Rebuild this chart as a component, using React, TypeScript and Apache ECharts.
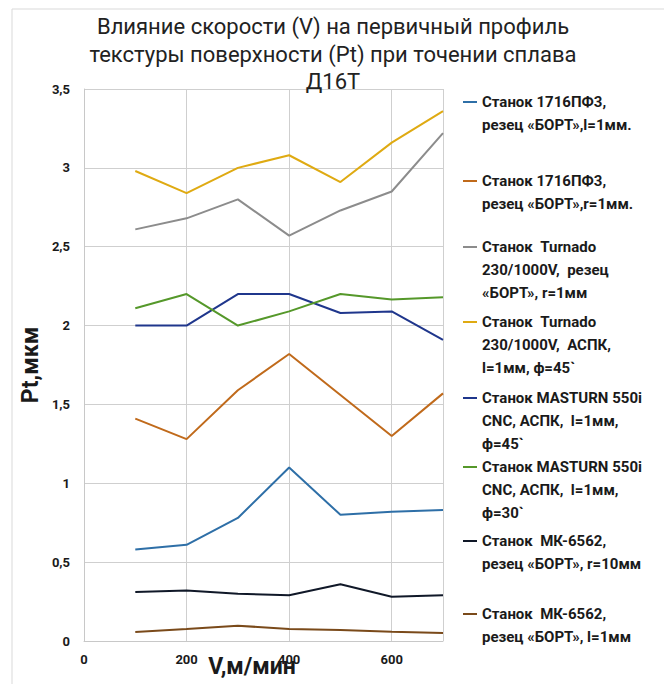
import React, { useEffect, useRef } from "react";
import * as echarts from "echarts";

const speeds = [100, 200, 300, 400, 500, 600, 700];

const s1716l1 = [0.58, 0.61, 0.78, 1.1, 0.8, 0.82, 0.83];
const s1716r1 = [1.41, 1.28, 1.59, 1.82, 1.56, 1.3, 1.57];
const turnadoBort = [2.61, 2.68, 2.8, 2.57, 2.73, 2.85, 3.22];
const turnadoAspk = [2.98, 2.84, 3.0, 3.08, 2.91, 3.16, 3.36];
const masturn45 = [2.0, 2.0, 2.2, 2.2, 2.08, 2.09, 1.91];
const masturn30 = [2.11, 2.2, 2.0, 2.09, 2.2, 2.165, 2.18];
const mk6562r10 = [0.31, 0.32, 0.3, 0.29, 0.36, 0.28, 0.29];
const mk6562l1 = [0.057, 0.076, 0.097, 0.076, 0.07, 0.059, 0.05];

const seriesNames = [
  "Станок 1716ПФ3,\nрезец «БОРТ»,l=1мм.",
  "Станок 1716ПФ3,\nрезец «БОРТ»,r=1мм.",
  "Станок  Turnado\n230/1000V,  резец\n«БОРТ», r=1мм",
  "Станок  Turnado\n230/1000V,  АСПК,\nl=1мм, ф=45`",
  "Станок MASTURN 550i\nCNC, АСПК,  l=1мм,\nф=45`",
  "Станок MASTURN 550i\nCNC, АСПК,  l=1мм,\nф=30`",
  "Станок  МК-6562,\nрезец «БОРТ», r=10мм",
  "Станок  МК-6562,\nрезец «БОРТ», l=1мм",
];
const seriesValues = [s1716l1, s1716r1, turnadoBort, turnadoAspk, masturn45, masturn30, mk6562r10, mk6562l1];
const seriesColors = ["#2e6fa7", "#c06a1b", "#8c8c8c", "#dfaa12", "#1f368c", "#55982a", "#101828", "#7a4a1a"];

const titleText = "Влияние скорости (V) на первичный профиль\nтекстуры поверхности (Pt) при точении сплава\nД16Т";
const xName = "V,м/мин";
const yName = "Pt,мкм";

const FONT = "Roboto, 'Noto Sans', sans-serif";
const LH = 23;
const legendFirstLineCenters = [102, 181, 247, 322, 398, 467, 541, 614];

export default function App() {
  const ref = useRef<HTMLDivElement>(null);
  useEffect(() => {
    document.body.style.margin = "0";
    const chart = echarts.init(ref.current!, null, { renderer: "svg" });
    const legends = seriesNames.map((name, i) => {
      const n = name.split("\n").length;
      const H = n * LH;
      const a = LH / 2 - 1;
      const b = LH / 2 + 1;
      return {
        data: [name],
        left: 463,
        top: legendFirstLineCenters[i] - LH / 2,
        orient: "vertical",
        padding: 0,
        itemGap: 0,
        itemWidth: 14,
        itemHeight: H,
        icon: `path://M0,0L0,0M0,${H}L0,${H}M0,${a}L14,${a}L14,${b}L0,${b}Z`,
        itemStyle: { borderWidth: 0 },
        selectedMode: false,
        textStyle: { fontFamily: FONT, fontSize: 15, fontWeight: "bold", color: "#1a1a1a", lineHeight: LH },
      };
    });
    chart.setOption({
      animation: false,
      backgroundColor: "#ffffff",
      title: {
        text: titleText,
        left: 328,
        textAlign: "center",
        top: 8,
        textStyle: { fontFamily: FONT, fontSize: 22, fontWeight: "normal", color: "#222222", lineHeight: 27.5 },
      },
      graphic: [
        {
          type: "rect",
          silent: true,
          z: -10,
          shape: { x: 12, y: 9, width: 700, height: 700 },
          style: { fill: "none", stroke: "#d9d9d9", lineWidth: 1 },
        },
      ],
      legend: legends,
      grid: { left: 84, top: 89, right: 221, bottom: 43, containLabel: false, outerBoundsMode: "none" },
      xAxis: {
        type: "value",
        min: 0,
        max: 700,
        interval: 200,
        name: xName,
        nameLocation: "middle",
        nameGap: 14,
        nameMoveOverlap: false,
        nameTextStyle: { fontFamily: FONT, fontSize: 23, fontWeight: "bold", color: "#1a1a1a", padding: [0, 23, 0, 0] },
        axisLine: { show: true, lineStyle: { color: "#c8c8c8", width: 1 } },
        axisTick: { show: false },
        axisLabel: {
          margin: 12,
          fontFamily: FONT,
          fontSize: 13,
          fontWeight: "bold",
          color: "#1a1a1a",
          showMaxLabel: false,
        },
        splitLine: { show: true, lineStyle: { color: "#cfcfcf", width: 1 } },
      },
      yAxis: {
        type: "value",
        min: 0,
        max: 3.5,
        interval: 0.5,
        name: yName,
        nameLocation: "middle",
        nameGap: 42,
        nameMoveOverlap: false,
        nameTextStyle: { fontFamily: FONT, fontSize: 23, fontWeight: "bold", color: "#1a1a1a" },
        axisLine: { show: true, lineStyle: { color: "#c8c8c8", width: 1 } },
        axisTick: { show: false },
        axisLabel: {
          margin: 14,
          fontFamily: FONT,
          fontSize: 13,
          fontWeight: "bold",
          color: "#1a1a1a",
          formatter: (v: number) => String(v).replace(".", ","),
        },
        splitLine: { show: true, lineStyle: { color: "#cfcfcf", width: 1 } },
      },
      series: seriesNames.map((name, i) => ({
        type: "line",
        name,
        data: speeds.map((x, j) => [x, seriesValues[i][j]]),
        showSymbol: false,
        symbol: "none",
        color: seriesColors[i],
        lineStyle: { width: 2, color: seriesColors[i] },
        z: 3,
      })),
    });
    return () => chart.dispose();
  }, []);
  return <div ref={ref} style={{ width: 664, height: 684 }} />;
}
